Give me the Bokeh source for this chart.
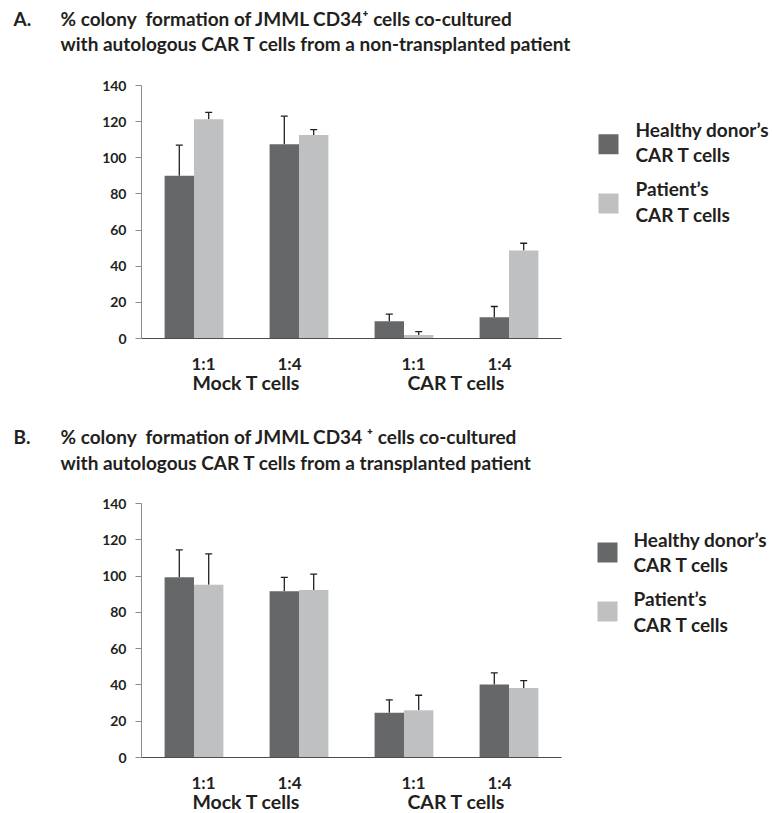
from bokeh.plotting import figure
from bokeh.models import Range1d, FixedTicker, LinearAxis, Whisker, TeeHead, ColumnDataSource
from bokeh.core.properties import value
from bokeh.layouts import column, row
from bokeh.embed import file_html
from bokeh.resources import INLINE

# ---------------- data ----------------
groups = ["Mock T cells", "CAR T cells"]
ratios = ["1:1", "1:4", "1:1", "1:4"]
group_of = [0, 0, 1, 1]
y_ticks = [0, 20, 40, 60, 80, 100, 120, 140]
legend_lines = [["Healthy donor\u2019s", "CAR T cells"], ["Patient\u2019s", "CAR T cells"]]

# Panel A: non-transplanted patient
a_healthy = [90.0, 107.5, 9.5, 11.7]
a_healthy_err = [17.0, 15.5, 4.0, 6.0]
a_patient = [121.3, 112.6, 2.0, 48.7]
a_patient_err = [3.8, 3.0, 1.8, 4.0]

# Panel B: transplanted patient
b_healthy = [99.4, 91.7, 24.6, 40.2]
b_healthy_err = [15.0, 7.6, 7.2, 6.4]
b_patient = [95.2, 92.3, 26.0, 38.3]
b_patient_err = [17.0, 8.8, 8.3, 4.1]

title_a = ["A.", "% colony\u00a0 formation of JMML CD34\u207a cells co-cultured",
           "with autologous CAR T cells from a non-transplanted patient"]
title_b = ["B.", "% colony\u00a0 formation of JMML CD34 \u207a cells co-cultured",
           "with autologous CAR T cells from a transplanted patient"]

# ---------------- style ----------------
DARK = "#666769"
LIGHT = "#bfc0c2"
FONT = "Lato"
TXT = "#231f20"
W = 772
CHART_W = 580
LEG_W = W - CHART_W
BAR_W = 0.28
TXT_SHIFT = -8  # svg text sits a little low relative to the alphabetic baseline


def blank(width, height, top=0, frame_h=None):
    if frame_h is None:
        frame_h = height
    p = figure(width=width, height=height, frame_width=width, frame_height=frame_h,
               x_range=Range1d(0, width), y_range=Range1d(top + frame_h, top),
               x_axis_location=None, y_axis_location=None, toolbar_location=None,
               output_backend="svg", min_border_left=0, min_border_right=0,
               min_border_top=top, min_border_bottom=height - top - frame_h)
    p.outline_line_color = None
    p.grid.visible = False
    return p


def title_fig(lines, base1, base2):
    p = blank(W, 70)
    p.text(x=[13, 60, 60], y=[base1 + TXT_SHIFT, base1 + TXT_SHIFT, base2 + TXT_SHIFT], text=lines,
           text_font=value(FONT), text_font_style="bold", text_font_size="19px",
           text_color=TXT, text_baseline="alphabetic")
    return p


def legend_fig(height, top, frame_h, sq_x, sq_y, txt_x, base_y):
    p = blank(LEG_W, height, top, frame_h)
    p.rect(x=[sq_x, sq_x], y=sq_y, width=20, height=20, fill_color=[DARK, LIGHT], line_color=None)
    texts = [t for item in legend_lines for t in item]
    p.text(x=[txt_x] * len(texts), y=[b + TXT_SHIFT for b in base_y], text=texts,
           text_font=value(FONT), text_font_style="bold", text_font_size="19px",
           text_color=TXT, text_baseline="alphabetic")
    return p


def chart(healthy, h_err, patient, p_err, height, top, frame_h):
    n = len(ratios)
    centers = [i + 0.5 for i in range(n)]
    xh = [c - BAR_W / 2 for c in centers]
    xp = [c + BAR_W / 2 for c in centers]
    src = ColumnDataSource(dict(
        xh=xh, xp=xp, healthy=healthy, patient=patient,
        h_up=[v + e for v, e in zip(healthy, h_err)],
        p_up=[v + e for v, e in zip(patient, p_err)],
    ))
    bottom = height - top - frame_h
    p = figure(width=CHART_W, height=height, x_range=Range1d(0, n), y_range=Range1d(0, 140),
               frame_width=420, frame_height=frame_h, min_border_left=141,
               min_border_right=CHART_W - 141 - 420, min_border_top=top, min_border_bottom=bottom,
               x_axis_location=None, toolbar_location=None, output_backend="svg")
    p.outline_line_color = None
    p.grid.visible = False

    p.vbar(x="xh", top="healthy", width=BAR_W, source=src, fill_color=DARK, line_color=None)
    p.vbar(x="xp", top="patient", width=BAR_W, source=src, fill_color=LIGHT, line_color=None)
    for base, lo, up in (("xh", "healthy", "h_up"), ("xp", "patient", "p_up")):
        p.add_layout(Whisker(base=base, lower=lo, upper=up, source=src, dimension="height",
                             line_color=TXT, line_width=1.3, lower_head=None,
                             upper_head=TeeHead(size=7, line_color=TXT, line_width=1.3)))

    ya = p.yaxis[0]
    ya.ticker = FixedTicker(ticks=y_ticks)
    ya.axis_line_color = "#8c8c8c"
    ya.major_tick_line_color = "#8c8c8c"
    ya.major_tick_out = 6
    ya.major_tick_in = 0
    ya.minor_tick_line_color = None
    ya.major_label_text_font = FONT
    ya.major_label_text_font_style = "bold"
    ya.major_label_text_font_size = "14px"
    ya.major_label_text_color = TXT
    ya.major_label_standoff = 9

    # ratio labels: Excel placed them slightly toward the middle of each group
    shift = 0.09
    tick_pos = [c + (shift if (i % 2 == 0) else -shift) for i, c in enumerate(centers)]
    xa = LinearAxis(ticker=FixedTicker(ticks=tick_pos),
                    major_label_overrides={t: r for t, r in zip(tick_pos, ratios)})
    xa.axis_line_color = "#4d4d4d"
    xa.axis_line_width = 1.2
    xa.major_tick_line_color = None
    xa.major_tick_out = 0
    xa.major_tick_in = 0
    xa.minor_tick_line_color = None
    xa.major_label_text_font = FONT
    xa.major_label_text_font_style = "bold"
    xa.major_label_text_font_size = "17px"
    xa.major_label_text_color = TXT
    xa.major_label_standoff = 14
    p.add_layout(xa, "below")

    gpos = [sum(c for c, g in zip(centers, group_of) if g == k) / group_of.count(k)
            for k in range(len(groups))]
    ga = LinearAxis(ticker=FixedTicker(ticks=gpos),
                    major_label_overrides={t: g for t, g in zip(gpos, groups)})
    ga.axis_line_color = None
    ga.major_tick_line_color = None
    ga.major_tick_out = 0
    ga.major_tick_in = 0
    ga.minor_tick_line_color = None
    ga.major_label_text_font = FONT
    ga.major_label_text_font_style = "bold"
    ga.major_label_text_font_size = "19.5px"
    ga.major_label_text_color = TXT
    ga.major_label_standoff = -6
    p.add_layout(ga, "below")
    return p


ca = chart(a_healthy, a_healthy_err, a_patient, a_patient_err, 350, 15, 253)
la = legend_fig(350, 15, 253, 28, [73.7, 133.0], 55, [66.7, 91.7, 126.0, 151.7])
cb = chart(b_healthy, b_healthy_err, b_patient, b_patient_err, 322, 13, 254)
lb = legend_fig(322, 13, 254, 27, [62.0, 121.0], 53, [56.5, 81.5, 116.0, 141.5])

layout = column(title_fig(title_a, 25.5, 50.5), row(ca, la),
                title_fig(title_b, 24.0, 49.5), row(cb, lb))
open("out.html", "w").write(file_html(layout, INLINE))
